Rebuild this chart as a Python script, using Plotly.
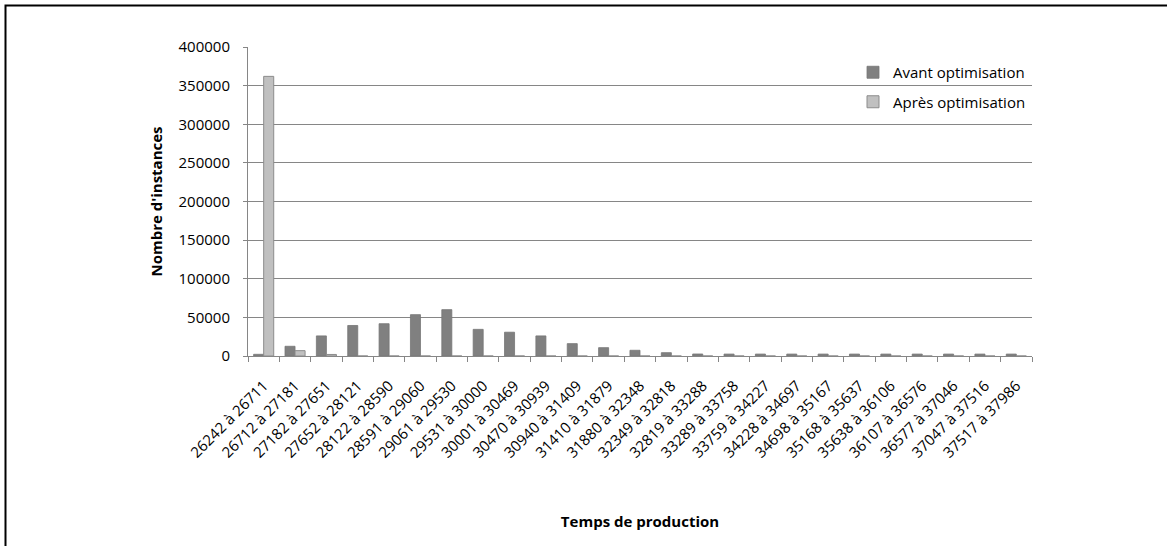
import plotly.graph_objects as go

categories = ["26242 à 26711", "26712 à 27181", "27182 à 27651", "27652 à 28121",
              "28122 à 28590", "28591 à 29060", "29061 à 29530", "29531 à 30000",
              "30001 à 30469", "30470 à 30939", "30940 à 31409", "31410 à 31879",
              "31880 à 32348", "32349 à 32818", "32819 à 33288", "33289 à 33758",
              "33759 à 34227", "34228 à 34697", "34698 à 35167", "35168 à 35637",
              "35638 à 36106", "36107 à 36576", "36577 à 37046", "37047 à 37516",
              "37517 à 37986"]
avant = [2200, 12600, 26000, 39500, 41800, 53500, 60000, 34500, 30800, 26000,
         16000, 10800, 7400, 4300, 2600, 2500, 2500, 2500, 2500, 2500,
         2500, 2500, 2500, 2500, 2500]
apres = [362000, 6900, 2000, 0, 0, 0, 0, 0, 0, 0,
         0, 0, 0, 0, 0, 0, 0, 0, 0, 0,
         0, 0, 0, 0, 0]

W, H = 1167, 546
L, R, T, B = 248, 1167 - 1032, 47, 546 - 356
FONT = "Open Sans"
FS = 15

fig = go.Figure()
fig.add_trace(go.Bar(x=categories, y=avant, name="Avant optimisation",
                     marker=dict(color="#808080", line=dict(color="#767676", width=0.8)),
                     legendgroup="a"))
fig.add_trace(go.Bar(x=categories, y=apres, name="Après optimisation",
                     marker=dict(color="#c0c0c0", line=dict(color="#8c8c8c", width=1)),
                     legendgroup="b"))

pw = W - L - R
ph = H - T - B
bx = 5.5
by = 5.5
fig.add_shape(type="rect", xref="paper", yref="paper",
              x0=(bx - L) / pw, x1=(W + 50 - L) / pw,
              y0=-(H + 50 - (H - B)) / ph, y1=(H - B - by) / ph,
              line=dict(color="black", width=2), fillcolor="rgba(0,0,0,0)", layer="above")

fig.update_layout(
    width=W, height=H, autosize=False,
    margin=dict(l=L, r=R, t=T, b=B),
    paper_bgcolor="white", plot_bgcolor="white",
    font=dict(family=FONT, size=FS, color="black"),
    barmode="group", bargap=0.36, bargroupgap=0,
    showlegend=True,
    legend=dict(x=(853 - L) / pw, y=(H - B - 56) / ph, xanchor="left", yanchor="top",
                bgcolor="rgba(0,0,0,0)", font=dict(size=FS, family=FONT),
                traceorder="grouped", tracegroupgap=7, itemwidth=30),
)
fig.update_xaxes(
    type="category", tickangle=-45, tickson="boundaries", ticks="outside", ticklen=5,
    tickcolor="#868686", showline=True, linecolor="#868686", linewidth=1,
    showgrid=False, tickfont=dict(size=FS, family=FONT), ticklabelstandoff=14,
    title=dict(text="<b>Temps de production</b>", font=dict(size=FS, family=FONT), standoff=55),
)
fig.update_yaxes(
    range=[0, 400000], dtick=50000, tickformat="d", ticks="outside", ticklen=4,
    tickcolor="#868686", showline=True, linecolor="#868686", linewidth=1,
    showgrid=True, gridcolor="#868686", gridwidth=1, zeroline=False,
    tickfont=dict(size=FS, family=FONT), ticklabelstandoff=10,
    title=dict(text="<b>Nombre d'instances</b>", font=dict(size=FS, family=FONT), standoff=12),
)

fig.write_html("out.html", config={"displayModeBar": False},
               post_script="document.body.style.margin='0';")
